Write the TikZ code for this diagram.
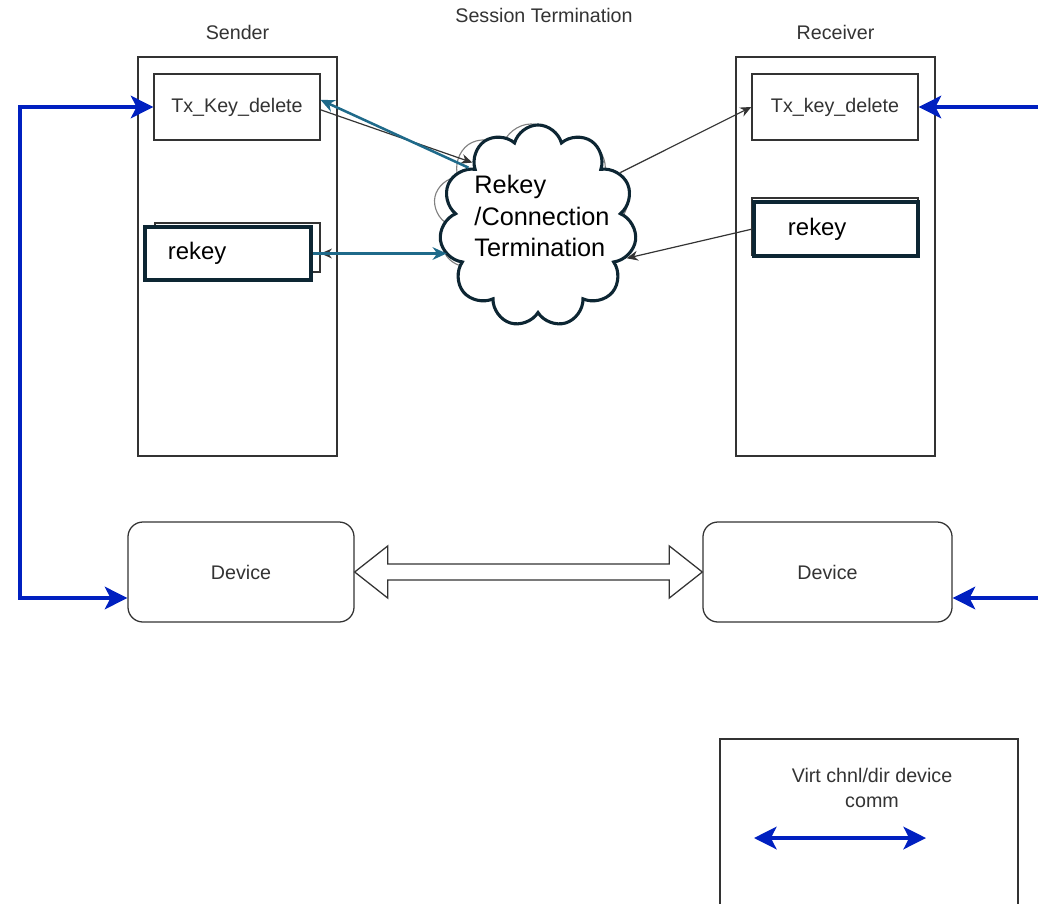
\documentclass[tikz,border=0pt]{standalone}
\usepackage{fontspec}
\setmainfont{Liberation Sans}
\usetikzlibrary{positioning, shapes.symbols, arrows.meta, calc}

\definecolor{linegray}{HTML}{333333}
\definecolor{darknavy}{HTML}{0D2633}
\definecolor{tealblue}{HTML}{1F6A8A}
\definecolor{vcblue}{HTML}{0020C0}

\tikzset{
  lbl/.style={font=\fontsize{14}{17.7}\selectfont, text=linegray},
  column/.style={draw=linegray, line width=0.9pt, minimum width=4.975cm, minimum height=9.975cm, inner sep=0pt},
  keybox/.style={draw=linegray, line width=0.9pt, fill=white, minimum width=4.15cm, minimum height=1.65cm, inner sep=0pt, lbl},
  rekeyback/.style={draw=linegray, line width=0.9pt, fill=white, inner sep=0pt},
  rekeybox/.style={draw=darknavy, line width=2.2pt, fill=white, font=\fontsize{17}{20}\selectfont, align=left, inner ysep=0pt},
  devbox/.style={draw=linegray, line width=0.9pt, rounded corners=0.375cm, minimum height=2.5cm, inner sep=0pt, lbl},
  thinarrow/.style={draw=linegray, line width=0.85pt, -{Stealth[length=8pt,width=7pt]}},
  tealarrow/.style={draw=tealblue, line width=1.8pt, -{Stealth[length=10pt,width=9pt]}},
  blueline/.style={draw=vcblue, line width=2.5pt},
  bluetip/.tip={Stealth[length=16pt,width=16pt,inset=4pt]},
  hollowarrow/.style={draw=linegray, line width=0.9pt, fill=white, line join=miter}
}

\begin{document}
\begin{tikzpicture}[x=0.025cm, y=-0.025cm]
    \useasboundingbox (0,0) rectangle (1038,903);

    % Sender and receiver columns
    \foreach \nm/\x/\txt in {sender/237.5/Sender, receiver/835.5/Receiver} {
      \node[column] (\nm) at (\x,256.5) {};
      \node[lbl] (\nm lbl) at (\x,32) {\txt};
    }
    \node[lbl] (sessionlbl) at (544,15) {Session Termination};

    % Key delete boxes
    \node[keybox] (sTx) at (237,107) {Tx\_Key\_delete};
    \node[keybox] (rTx) at (835,107) {Tx\_key\_delete};

    % Rekey boxes
    \node[rekeyback, minimum width=4.125cm, minimum height=1.225cm] (sRekeyBack) at (237.5,247.5) {};
    \node[rekeybox, text width=3cm, inner xsep=0.575cm, minimum height=1.325cm] (sRekey) at (228,253.5) {rekey};
    \node[rekeyback, minimum width=4.15cm, minimum height=1.425cm] (rRekeyBack) at (835,226.5) {};
    \node[rekeybox, text width=2.4cm, inner xsep=0.85cm, minimum height=1.35cm] (rRekey) at (836,229) {rekey};

    % Clouds
    \node[cloud, cloud puffs=9, cloud ignores aspect, minimum width=4.875cm, minimum height=4.4cm, draw=gray, line width=0.8pt] (backcloud) at (531,212) {};
    \node[cloud, cloud puffs=11, cloud ignores aspect, minimum width=4.925cm, minimum height=5.05cm, draw=darknavy, line width=2.2pt, fill=white] (termcloud) at (538,226) {};
    \node[font=\fontsize{18}{22.7}\selectfont, align=left] (cloudtxt) at (542,216) {Rekey\\/Connection\\Termination};

    % Devices
    \node[devbox, minimum width=5.65cm] (dL) at (241,572) {Device};
    \node[devbox, minimum width=6.225cm] (dR) at (827.5,572) {Device};

    % Hollow double arrow between devices
    \draw[hollowarrow] (dL.east) -- ++(33,-26) -- ++(0,18) -- ($(dR.west)+(-33,-8)$) -- ++(0,-18)
      -- (dR.west) -- ++(-33,26) -- ++(0,-18) -- ($(dL.east)+(33,8)$) -- ++(0,18) -- cycle;

    % Messages to and from the cloud
    \draw[thinarrow] ([yshift=-2pt]sTx.east) -- (termcloud.136);
    \draw[tealarrow] (termcloud.140) -- ([yshift=5pt]sTx.east);
    \draw[thinarrow] (sRekey.east -| backcloud.west) -- (sRekey.east -| sRekeyBack.east);
    \draw[tealarrow] (sRekey.east) -- ([xshift=4pt]sRekey.east -| termcloud.west);
    \draw[thinarrow] (termcloud.33) -- (rTx.west);
    \draw[thinarrow] (rRekey.west) -- (termcloud.-20);

    % Virtual channel lines
    \coordinate (lt) at (20,107);
    \coordinate (lb) at (20,598);
    \coordinate (rt) at (1038,107);
    \coordinate (rb) at (1038,598);
    \draw[blueline, bluetip-bluetip] (sTx.west) -- (lt) -- (lb) -- (lb -| dL.west);
    \draw[blueline, -bluetip] (rt) -- (rTx.east);
    \draw[blueline, -bluetip] (rb) -- (rb -| dR.east);

    % Legend
    \node[draw=linegray, line width=1.2pt, minimum width=7.45cm, minimum height=4.3cm] (legend) at (869,825) {};
    \node[lbl, align=center] (legendtxt) at (872,788) {Virt chnl/dir device\\comm};
    \coordinate (legL) at (754,838);
    \coordinate (legR) at (926,838);
    \draw[blueline, bluetip-bluetip] (legL) -- (legR);

  \end{tikzpicture}
\end{document}
